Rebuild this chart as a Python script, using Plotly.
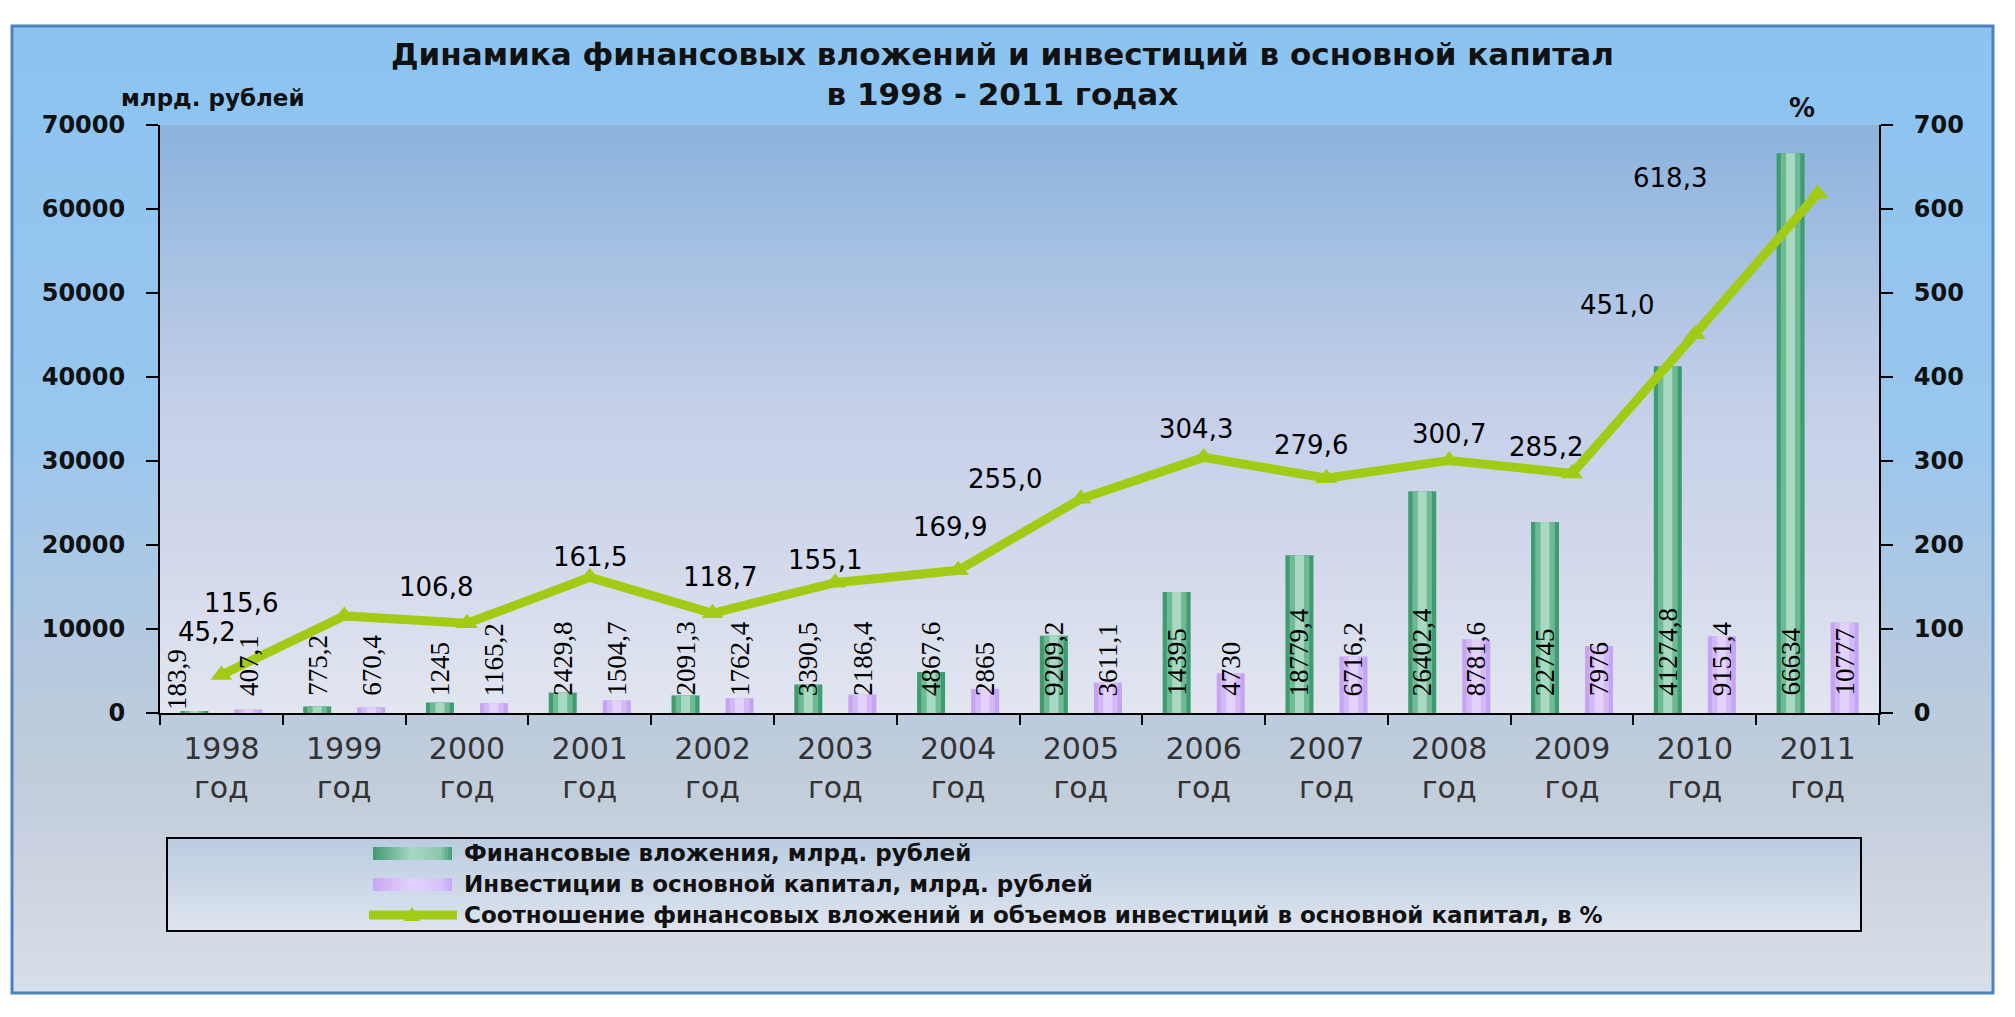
import plotly.graph_objects as go

# ---------------- data ----------------
years = ["1998", "1999", "2000", "2001", "2002", "2003", "2004",
         "2005", "2006", "2007", "2008", "2009", "2010", "2011"]
year_ticks = [y + "<br>год" for y in years]

fin = [183.9, 775.2, 1245, 2429.8, 2091.3, 3390.5, 4867.6,
       9209.2, 14395, 18779.4, 26402.4, 22745, 41274.8, 66634]
inv = [407.1, 670.4, 1165.2, 1504.7, 1762.4, 2186.4, 2865,
       3611.1, 4730, 6716.2, 8781.6, 7976, 9151.4, 10777]
ratio = [45.2, 115.6, 106.8, 161.5, 118.7, 155.1, 169.9,
         255.0, 304.3, 279.6, 300.7, 285.2, 451.0, 618.3]

fin_text = ["183,9", "775,2", "1245", "2429,8", "2091,3", "3390,5", "4867,6",
            "9209,2", "14395", "18779,4", "26402,4", "22745", "41274,8", "66634"]
inv_text = ["407,1", "670,4", "1165,2", "1504,7", "1762,4", "2186,4", "2865",
            "3611,1", "4730", "6716,2", "8781,6", "7976", "9151,4", "10777"]
ratio_text = ["45,2", "115,6", "106,8", "161,5", "118,7", "155,1", "169,9",
              "255,0", "304,3", "279,6", "300,7", "285,2", "451,0", "618,3"]

left_ticks = [0, 10000, 20000, 30000, 40000, 50000, 60000, 70000]
left_tick_text = ["0", "10000", "20000", "30000", "40000", "50000", "60000", "70000"]
right_ticks = [0, 100, 200, 300, 400, 500, 600, 700]
right_tick_text = ["0", "100", "200", "300", "400", "500", "600", "700"]

title_text = "Динамика финансовых вложений и инвестиций в основной капитал<br>в 1998 - 2011 годах"
legend_names = ["Финансовые вложения, млрд. рублей",
                "Инвестиции в основной капитал, млрд. рублей",
                "Соотношение финансовых вложений и объемов инвестиций в основной капитал, в %"]

# ---------------- layout constants ----------------
W, H = 2015, 1017
L, R, T, B = 160, 136, 125, 304
PW, PH = W - L - R, H - T - B

# label offsets (pixels) for the ratio labels relative to their points
ratio_dx = [-14, -103, -31, 0, 7, -10, -8, -76, -8, -15, 0, -26, -78, -148]
ratio_dy = [43, 13, 36, 20, 36, 23, 43, 20, 28, 33, 26, 26, 29, 16]

GREEN_C, PURPLE_C = -0.22, 0.22
BAR_W = 0.228


def xp(px):
    return (px - L) / PW


def yp(py):
    return (H - B - py) / PH


def hex2rgb(h):
    h = h.lstrip("#")
    return [int(h[i:i + 2], 16) for i in (0, 2, 4)]


def interp(stops, v):
    if v <= stops[0][0]:
        return stops[0][1]
    for (a, ca), (b, cb) in zip(stops[:-1], stops[1:]):
        if a <= v <= b:
            t = (v - a) / (b - a)
            c1, c2 = hex2rgb(ca), hex2rgb(cb)
            c = [round(c1[i] + (c2[i] - c1[i]) * t) for i in range(3)]
            return "rgb(%d,%d,%d)" % tuple(c)
    return stops[-1][1]


shapes = []


def vgrad(x0, x1, y0, y1, stops, step=4):
    py = y0
    while py < y1:
        y_end = min(py + step + 1, y1)
        shapes.append(dict(type="rect", xref="paper", yref="paper",
                           x0=xp(x0), x1=xp(x1), y0=yp(y_end), y1=yp(py),
                           fillcolor=interp(stops, py + step / 2),
                           line=dict(width=0), layer="below"))
        py += step


def hgrad(x0, x1, y0, y1, stops, step=3):
    px = x0
    while px < x1:
        x_end = min(px + step + 1, x1)
        shapes.append(dict(type="rect", xref="paper", yref="paper",
                           x0=xp(px), x1=xp(x_end), y0=yp(y1), y1=yp(y0),
                           fillcolor=interp(stops, px + step / 2),
                           line=dict(width=0), layer="below"))
        px += step


# outer background
vgrad(12, 1993, 26, 993, [(26, "#8BC4F1"), (430, "#98C6EE"), (640, "#B4C9E0"),
                          (800, "#C4CEDB"), (993, "#D9DFE8")])
# plot area background
vgrad(L, W - R, T, H - B, [(125, "#8BB3DD"), (250, "#A4C0E2"), (400, "#C4CFE8"),
                           (560, "#D3D9EC"), (713, "#E2E6F0")])
# frame border
shapes.append(dict(type="rect", xref="paper", yref="paper",
                   x0=xp(12), x1=xp(1993), y0=yp(993), y1=yp(26),
                   line=dict(color="#4F81BD", width=3), fillcolor="rgba(0,0,0,0)",
                   layer="below"))
# legend box
vgrad(167, 1861, 838, 931, [(838, "#BACCE1"), (931, "#DEE4EE")], step=3)
shapes.append(dict(type="rect", xref="paper", yref="paper",
                   x0=xp(167), x1=xp(1861), y0=yp(931), y1=yp(838),
                   line=dict(color="black", width=2), fillcolor="rgba(0,0,0,0)",
                   layer="below"))
# legend swatches
hgrad(373, 452, 847, 860, [(373, "#3F9B70"), (412, "#A9D8C3"), (440, "#8CC8AC"), (452, "#3F9B70")])
hgrad(373, 452, 878, 891, [(373, "#C9A6F4"), (412, "#E3D3FB"), (440, "#D8C2F8"), (452, "#C9A6F4")])
shapes.append(dict(type="line", xref="paper", yref="paper",
                   x0=xp(369), x1=xp(457), y0=yp(915), y1=yp(915),
                   line=dict(color="#A2CB16", width=9), layer="below"))
shapes.append(dict(type="path", xref="paper", yref="paper",
                   path="M %f,%f L %f,%f L %f,%f Z" % (xp(404), yp(921), xp(420), yp(921), xp(412), yp(907)),
                   fillcolor="#A2CB16", line=dict(width=0), layer="below"))

fig = go.Figure()

# bars drawn as layered cylinders
green_layers = [(1.0, "#3F9B70"), (0.7, "#6DBA95"), (0.32, "#A9D8C3")]
purple_layers = [(1.0, "#C6A3F3"), (0.7, "#D3B9F7"), (0.32, "#E3D3FB")]
for frac, col in green_layers:
    w = BAR_W * frac
    fig.add_trace(go.Bar(x=years, y=fin, width=w, offset=GREEN_C - w / 2,
                         marker=dict(color=col, line=dict(width=0)),
                         showlegend=False, hoverinfo="skip"))
for frac, col in purple_layers:
    w = BAR_W * frac
    fig.add_trace(go.Bar(x=years, y=inv, width=w, offset=PURPLE_C - w / 2,
                         marker=dict(color=col, line=dict(width=0)),
                         showlegend=False, hoverinfo="skip"))

fig.add_trace(go.Scatter(x=years, y=ratio, yaxis="y2", mode="lines+markers",
                         line=dict(color="#A2CB16", width=9),
                         marker=dict(symbol="triangle-up", size=19, color="#A2CB16"),
                         showlegend=False, cliponaxis=False))

annotations = []
# bar value labels (rotated)
for i, t in enumerate(fin_text):
    annotations.append(dict(x=i + GREEN_C, y=0, xref="x", yref="y", text=t,
                            textangle=-90, showarrow=False, xanchor="center",
                            yanchor="bottom", yshift=1 if i == 0 else 15,
                            xshift=-18 if i == 0 else 0,
                            font=dict(family="Liberation Serif", size=27, color="black")))
for i, t in enumerate(inv_text):
    annotations.append(dict(x=i + PURPLE_C, y=0, xref="x", yref="y", text=t,
                            textangle=-90, showarrow=False, xanchor="center",
                            yanchor="bottom", yshift=15,
                            font=dict(family="Liberation Serif", size=27, color="black")))
# ratio labels
for i, t in enumerate(ratio_text):
    annotations.append(dict(x=i, y=ratio[i], xref="x", yref="y2", text=t,
                            showarrow=False, xanchor="center", yanchor="middle",
                            xshift=ratio_dx[i], yshift=ratio_dy[i],
                            font=dict(family="DejaVu Sans", size=26, color="black")))
# title & axis titles
annotations.append(dict(x=xp(1002), y=yp(74), xref="paper", yref="paper",
                        text="<b>" + title_text.replace("<br>", "</b><br><b>") + "</b>",
                        showarrow=False, xanchor="center", yanchor="middle",
                        font=dict(family="DejaVu Sans", size=31, color="#111111")))
annotations.append(dict(x=xp(213), y=yp(98), xref="paper", yref="paper",
                        text="<b>млрд. рублей</b>", showarrow=False,
                        xanchor="center", yanchor="middle",
                        font=dict(family="DejaVu Sans", size=23, color="#111111")))
annotations.append(dict(x=xp(1802), y=yp(108), xref="paper", yref="paper",
                        text="<b>%</b>", showarrow=False,
                        xanchor="center", yanchor="middle",
                        font=dict(family="DejaVu Sans", size=26, color="#111111")))
# legend texts
for name, py in zip(legend_names, [853, 884, 915]):
    annotations.append(dict(x=xp(462), y=yp(py), xref="paper", yref="paper",
                            text="<b>" + name + "</b>", showarrow=False,
                            xanchor="left", yanchor="middle",
                            font=dict(family="DejaVu Sans", size=23, color="#111111")))

fig.update_layout(
    width=W, height=H,
    margin=dict(l=L, r=R, t=T, b=B, pad=0),
    paper_bgcolor="white",
    plot_bgcolor="rgba(0,0,0,0)",
    barmode="overlay",
    showlegend=False,
    shapes=shapes,
    annotations=annotations,
    xaxis=dict(type="category", tickmode="array", tickvals=years, ticktext=year_ticks,
               tickson="boundaries", ticks="outside", ticklen=10, tickwidth=2,
               tickcolor="black", showline=True, linecolor="black", linewidth=2,
               showgrid=False, zeroline=False, range=[-0.5, 13.5],
               ticklabelstandoff=8,
               tickfont=dict(family="DejaVu Sans", size=30, color="#333333")),
    yaxis=dict(range=[0, 70000], tickmode="array", tickvals=left_ticks,
               ticktext=left_tick_text, ticks="outside", ticklen=12,
               tickwidth=2, tickcolor="black", showline=True, linecolor="black",
               linewidth=2, showgrid=False, zeroline=False, ticklabelstandoff=16,
               tickfont=dict(family="DejaVu Sans", size=24, color="#111111", weight="bold")),
    yaxis2=dict(range=[0, 700], tickmode="array", tickvals=right_ticks,
                ticktext=right_tick_text, overlaying="y", side="right",
                ticks="outside", ticklen=12, tickwidth=2, tickcolor="black",
                showline=True, linecolor="black", linewidth=2, showgrid=False,
                zeroline=False, ticklabelstandoff=16,
                tickfont=dict(family="DejaVu Sans", size=24, color="#111111", weight="bold")),
)

fig.write_html("out.html", config={"displayModeBar": False},
               post_script="document.body.style.margin='0';document.body.style.overflow='hidden';")
